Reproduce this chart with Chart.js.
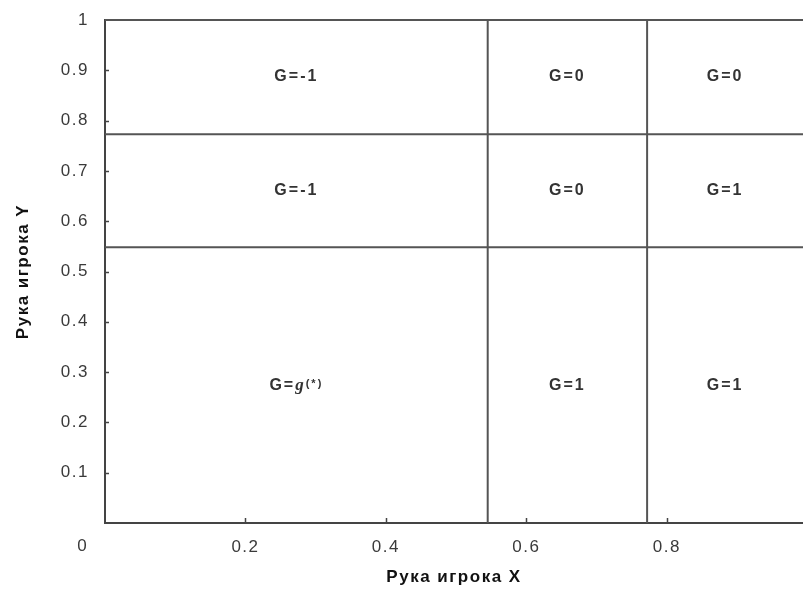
<!DOCTYPE html>
<html>
<head>
<meta charset="utf-8">
<script src="https://cdn.jsdelivr.net/npm/chart.js@4.4.1/dist/chart.umd.min.js"></script>
<style>
  html, body { margin: 0; padding: 0; background: #fff; overflow: hidden; }
  #wrap { width: 803px; height: 594px; }
</style>
</head>
<body>
<div id="wrap"><canvas id="chart"></canvas></div>
<script>
// axis extents (the right side of the original is cut off just before 1)
var xMax = 0.994;
var yMax = 1;

// where the regions are split
var xCuts = [0.545, 0.772];
var yCuts = [0.548, 0.773];

// labels of the cells, top row first, left column first
var cellLabels = [
    ['G=-1', 'G=0', 'G=0'],
    ['G=-1', 'G=0', 'G=1'],
    ['G=g(*)', 'G=1', 'G=1']
];

var xTicks = [0.2, 0.4, 0.6, 0.8];
var yTicks = [0.1, 0.2, 0.3, 0.4, 0.5, 0.6, 0.7, 0.8, 0.9, 1];

var xTitle = 'Рука игрока X';
var yTitle = 'Рука игрока Y';

var lineColor = '#555';
var textColor = '#3a3a3a';
var sans = '"Liberation Sans", Arial, sans-serif';

function inList(list, v) {
    return list.some(function(t){ return Math.abs(t - v) < 1e-6; });
}

function fmt(v) {
    return String(Number(v.toFixed(1)));
}

// vertical and horizontal split lines plus the top frame
var datasets = [];
xCuts.forEach(function(x){
    datasets.push({ data: [{x: x, y: 0}, {x: x, y: yMax}] });
});
yCuts.concat([yMax]).forEach(function(y){
    datasets.push({ data: [{x: 0, y: y}, {x: xMax, y: y}] });
});
datasets.forEach(function(d){
    d.borderColor = lineColor;
    d.borderWidth = 2;
    d.pointRadius = 0;
    d.fill = false;
    d.clip = 4;
});

function drawLabel(ctx, text, cx, cy) {
    var parts;
    if (text.indexOf('g(') >= 0) {
        parts = [
            ['G=', 'bold 16px ' + sans, 0],
            ['g', 'italic bold 17px "Liberation Serif", serif', 0],
            ['(*)', 'bold 11px ' + sans, -1]
        ];
    } else {
        parts = [[text, 'bold 16px ' + sans, 0]];
    }
    var total = 0;
    parts.forEach(function(p){
        ctx.font = p[1];
        p.w = ctx.measureText(p[0]).width;
        total += p.w;
    });
    var x = cx - total / 2;
    parts.forEach(function(p){
        ctx.font = p[1];
        ctx.fillText(p[0], x, cy + p[2]);
        x += p.w;
    });
}

var extras = {
    id: 'extras',
    beforeDraw: function(chart) {
        chart.ctx.letterSpacing = '1.5px';
    },
    afterDatasetsDraw: function(chart) {
        var ctx = chart.ctx;
        var xs = chart.scales.x, ys = chart.scales.y;
        var a = chart.chartArea;
        ctx.save();

        // small inward tick marks
        ctx.strokeStyle = '#444';
        ctx.lineWidth = 1.5;
        ctx.beginPath();
        yTicks.forEach(function(v){
            if (v >= yMax) return;
            var py = Math.round(ys.getPixelForValue(v)) + 0.5;
            ctx.moveTo(a.left, py);
            ctx.lineTo(a.left + 4, py);
        });
        xTicks.forEach(function(v){
            var px = Math.round(xs.getPixelForValue(v)) + 0.5;
            ctx.moveTo(px, a.bottom);
            ctx.lineTo(px, a.bottom - 5);
        });
        ctx.stroke();

        // shared zero in the corner
        ctx.fillStyle = textColor;
        ctx.letterSpacing = '0px';
        ctx.font = '17px ' + sans;
        ctx.textAlign = 'center';
        ctx.textBaseline = 'middle';
        ctx.fillText('0', a.left - 23, a.bottom + 23);

        // cell labels
        var xEdges = [0, xCuts[0], xCuts[1], xMax];
        var yEdges = [yMax, yCuts[1], yCuts[0], 0];
        ctx.fillStyle = '#333';
        ctx.textAlign = 'left';
        ctx.letterSpacing = '2px';
        for (var r = 0; r < 3; r++) {
            for (var c = 0; c < 3; c++) {
                var cx = xs.getPixelForValue((xEdges[c] + xEdges[c + 1]) / 2);
                var cy = ys.getPixelForValue((yEdges[r] + yEdges[r + 1]) / 2);
                drawLabel(ctx, cellLabels[r][c], cx, cy);
            }
        }
        ctx.restore();
    }
};

new Chart(document.getElementById('chart'), {
    type: 'line',
    data: { datasets: datasets },
    options: {
        responsive: true,
        maintainAspectRatio: false,
        animation: false,
        layout: { padding: { top: 20, left: 0, right: 0, bottom: 0 } },
        plugins: {
            legend: { display: false },
            tooltip: { enabled: false }
        },
        scales: {
            x: {
                type: 'linear',
                min: 0,
                max: xMax,
                afterFit: function(s){ s.height = 71; s.paddingLeft = 0; s.paddingRight = 0; },
                ticks: {
                    stepSize: 0.2,
                    color: textColor,
                    font: { family: sans, size: 17 },
                    padding: 14,
                    maxRotation: 0,
                    autoSkip: false,
                    callback: function(v){ return inList(xTicks, v) ? fmt(v) : ''; }
                },
                grid: { display: true, drawOnChartArea: false, drawTicks: false },
                border: { display: true, color: '#444', width: 2 },
                title: {
                    display: true,
                    text: xTitle,
                    color: '#111',
                    font: { family: sans, size: 17, weight: 'bold' },
                    padding: { top: 0, bottom: 6 }
                }
            },
            y: {
                type: 'linear',
                min: 0,
                max: yMax,
                afterFit: function(s){ s.width = 105; s.paddingTop = 0; s.paddingBottom = 0; },
                ticks: {
                    stepSize: 0.1,
                    color: textColor,
                    font: { family: sans, size: 17 },
                    padding: 16,
                    autoSkip: false,
                    callback: function(v){ return inList(yTicks, v) ? fmt(v) : ''; }
                },
                grid: { display: true, drawOnChartArea: false, drawTicks: false },
                border: { display: true, color: '#444', width: 2 },
                title: {
                    display: true,
                    text: yTitle,
                    color: '#111',
                    font: { family: sans, size: 17, weight: 'bold' },
                    padding: { top: 13, bottom: 0 }
                }
            }
        }
    },
    plugins: [extras]
});
</script>
</body>
</html>
